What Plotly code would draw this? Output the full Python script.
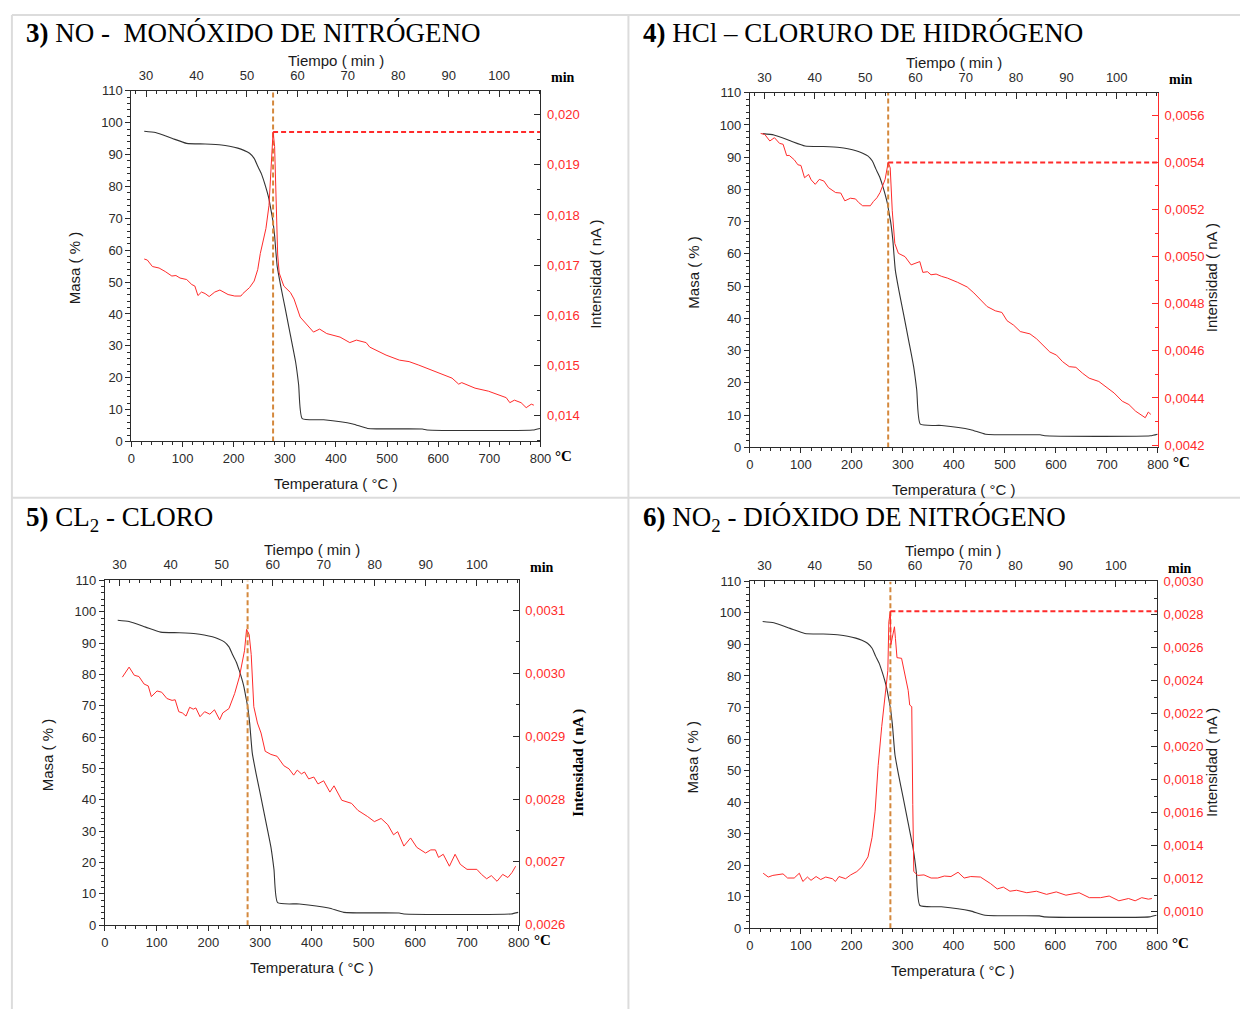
import plotly.graph_objects as go

W, H = 1251, 1017

# ---------------- data ----------------
# TGA mass loss curve (same sample for every gas)
mass_temp = [25, 47, 79, 108, 144, 176, 192, 208, 220, 231, 240, 247, 254, 260, 265, 269, 273, 276,
             280, 285, 292, 301, 311, 321, 327, 334, 376, 433, 462, 569, 578, 785, 799]
mass_pct = [97.3, 96.9, 95.1, 93.5, 93.3, 93.0, 92.6, 92.0, 91.3, 90.4, 88.8, 86.3, 84.0, 81.2, 78.5, 76.0,
            72.5, 69.8, 64.5, 55.0, 48.7, 41.5, 33.3, 25.0, 17.8, 7.2, 6.8, 5.5, 4.1, 3.9, 3.6, 3.6, 4.1]

# time scale shown on the top axis (min)
time_range = [27.1, 108.2]

# NO ion current (nA)
no_temp = [25, 31, 41, 54, 66, 79, 87, 95, 108, 118, 124, 130, 137, 144, 152, 163, 173, 189, 202, 214,
           218, 231, 240, 247, 252, 258, 263, 269, 273, 275, 277, 280, 283, 286, 289, 298, 311, 318, 330, 343,
           356, 368, 382, 408, 427, 440, 459, 466, 498, 524, 543, 562, 588, 627, 640, 646, 672, 698, 733, 740,
           749, 762, 772, 782, 787]
no_int = [0.01712, 0.01710, 0.01697, 0.01694, 0.01687, 0.01678, 0.01679, 0.01674, 0.01671, 0.01661,
          0.01658, 0.01639, 0.01646, 0.01643, 0.01637, 0.01646, 0.01650, 0.01641, 0.01638, 0.01638,
          0.01643, 0.01655, 0.01668, 0.01691, 0.01723, 0.01750, 0.01773, 0.01819, 0.01904, 0.01940,
          0.01966, 0.01937, 0.01820, 0.01720, 0.01684, 0.01658, 0.01645, 0.01632, 0.01596, 0.01582,
          0.01566, 0.01572, 0.01563, 0.01556, 0.01545, 0.01550, 0.01545, 0.01536, 0.01520, 0.01510,
          0.01507, 0.01500, 0.01489, 0.01474, 0.01462, 0.01465, 0.01454, 0.01448, 0.01435, 0.01425,
          0.01430, 0.01425, 0.01415, 0.01422, 0.01420]
no_peak_temp = 277
no_peak_int = 0.01966

# HCl ion current (nA)
hcl_temp = [21, 29, 39, 48, 58, 65, 72, 77, 87, 94, 100, 107, 115, 120, 128, 136, 145, 154, 168, 178,
            186, 197, 207, 213, 221, 236, 242, 249, 255, 265, 271, 275, 279, 284, 291, 304, 316, 323, 333, 339,
            348, 355, 365, 376, 387, 407, 426, 439, 452, 465, 481, 494, 504, 517, 530, 549, 562, 575, 588, 601,
            613, 626, 639, 652, 665, 684, 697, 714, 730, 743, 756, 765, 775, 781, 786]
hcl_int = [0.005523, 0.005519, 0.005491, 0.005505, 0.005481, 0.005477, 0.005429, 0.005430, 0.005411, 0.005390,
           0.005387, 0.005335, 0.005349, 0.005326, 0.005307, 0.005328, 0.005321, 0.005293, 0.005272, 0.005270,
           0.005237, 0.005248, 0.005245, 0.005230, 0.005216, 0.005216, 0.005234, 0.005250, 0.005272, 0.005328,
           0.005400, 0.005377, 0.005195, 0.005056, 0.005014, 0.005000, 0.004965, 0.004970, 0.004979, 0.004933,
           0.004936, 0.004923, 0.004926, 0.004916, 0.004909, 0.004891, 0.004871, 0.004846, 0.004818, 0.004788,
           0.004770, 0.004763, 0.004728, 0.004709, 0.004682, 0.004672, 0.004651, 0.004623, 0.004595, 0.004582,
           0.004554, 0.004533, 0.004530, 0.004505, 0.004484, 0.004470, 0.004449, 0.004421, 0.004386, 0.004372,
           0.004344, 0.004330, 0.004316, 0.004340, 0.004330]
hcl_peak_temp = 271
hcl_peak_int = 0.0054

# Cl2 ion current (nA)
cl_temp = [34, 41, 47, 57, 66, 76, 84, 90, 101, 110, 120, 130, 136, 143, 150, 157, 164, 171, 176, 184,
           193, 203, 212, 222, 228, 240, 251, 260, 270, 274, 279, 283, 288, 295, 302, 310, 321, 333, 346, 356,
           365, 372, 380, 386, 394, 404, 412, 423, 435, 443, 458, 477, 489, 508, 521, 534, 547, 558, 566, 578,
           591, 603, 620, 630, 639, 645, 654, 666, 677, 687, 700, 719, 728, 738, 747, 758, 769, 779, 787, 794]
cl_int = [0.002994, 0.003003, 0.003010, 0.002997, 0.002995, 0.002983, 0.002980, 0.002963, 0.002972, 0.002970,
          0.002960, 0.002957, 0.002958, 0.002939, 0.002937, 0.002932, 0.002946, 0.002943, 0.002945, 0.002931,
          0.002939, 0.002935, 0.002942, 0.002926, 0.002937, 0.002944, 0.002968, 0.002994, 0.003036, 0.003070,
          0.003062, 0.003030, 0.002947, 0.002921, 0.002905, 0.002876, 0.002871, 0.002868, 0.002853, 0.002848,
          0.002838, 0.002846, 0.002840, 0.002843, 0.002832, 0.002835, 0.002824, 0.002829, 0.002811, 0.002821,
          0.002798, 0.002793, 0.002782, 0.002772, 0.002764, 0.002769, 0.002759, 0.002743, 0.002748, 0.002725,
          0.002738, 0.002723, 0.002714, 0.002719, 0.002719, 0.002707, 0.002712, 0.002693, 0.002712, 0.002696,
          0.002688, 0.002688, 0.002680, 0.002673, 0.002678, 0.002669, 0.002680, 0.002675, 0.002683, 0.002693]
cl_peak_temp = 276

# NO2 ion current (nA)
no2_temp = [26, 36, 45, 65, 74, 87, 97, 104, 113, 120, 130, 139, 149, 162, 168, 175, 188, 198, 210, 220,
            232, 240, 246, 252, 259, 265, 271, 273, 276, 277, 280, 284, 286, 289, 298, 304, 311, 314, 318, 320,
            322, 330, 342, 356, 369, 382, 395, 409, 421, 434, 453, 473, 486, 498, 511, 524, 544, 563, 583, 602,
            621, 647, 667, 689, 706, 725, 744, 757, 770, 783, 790]
no2_int = [0.001233, 0.001210, 0.001220, 0.001229, 0.001204, 0.001204, 0.001233, 0.001183, 0.001210, 0.001190,
           0.001213, 0.001195, 0.001210, 0.001200, 0.001183, 0.001213, 0.001200, 0.001223, 0.001243, 0.001272,
           0.001332, 0.001450, 0.001609, 0.001886, 0.002123, 0.002281, 0.002460, 0.002756, 0.002820, 0.002618,
           0.002674, 0.002726, 0.002654, 0.002539, 0.002535, 0.002440, 0.002341, 0.002252, 0.002242, 0.001649,
           0.001243, 0.001220, 0.001223, 0.001204, 0.001204, 0.001216, 0.001213, 0.001239, 0.001204, 0.001213,
           0.001210, 0.001170, 0.001138, 0.001149, 0.001124, 0.001130, 0.001115, 0.001124, 0.001105, 0.001120,
           0.001100, 0.001115, 0.001085, 0.001085, 0.001095, 0.001066, 0.001080, 0.001066, 0.001085, 0.001076,
           0.001080]
no2_peak_temp = 276
no2_peak_int = 0.00282

# ---------------- styling ----------------
RED = '#ff2b2b'
ORANGE = '#d4883c'
INK = '#2b2b2b'
FRAME = '#dcdcdc'
SANS = 'Liberation Sans, Arial, sans-serif'
SERIF = 'Liberation Serif, Times New Roman, serif'


def fx(px):
    return px / W


def fy(py):
    return 1 - py / H


panels = [
    dict(title='<b>3)</b> NO -  MONÓXIDO DE NITRÓGENO', title_xy=(20, 26),
         box=(129, 543, 85, 441), temp=no_temp, inten=no_int,
         irange=[0.013474, 0.020482], itick0=0.014, idtick=0.001, fmt='.3f',
         peak_T=no_peak_temp, peak_I=no_peak_int, axis_color=INK, serif_ylab=False),
    dict(title='<b>4)</b> HCl – CLORURO DE HIDRÓGENO', title_xy=(645, 26),
         box=(755, 1168, 87, 447), temp=hcl_temp, inten=hcl_int,
         irange=[0.00419, 0.005696], itick0=0.0042, idtick=0.0002, fmt='.4f',
         peak_T=hcl_peak_temp, peak_I=hcl_peak_int, axis_color=RED, serif_ylab=False),
    dict(title='<b>5)</b> CL<sub>2</sub> - CLORO', title_xy=(20, 520),
         box=(102, 521, 582, 932), temp=cl_temp, inten=cl_int,
         irange=[0.002599, 0.003148], itick0=0.0026, idtick=0.0001, fmt='.4f',
         peak_T=cl_peak_temp, peak_I=None, axis_color=INK, serif_ylab=True),
    dict(title='<b>6)</b> NO<sub>2</sub> - DIÓXIDO DE NITRÓGENO', title_xy=(645, 520),
         box=(755, 1167, 583, 935), temp=no2_temp, inten=no2_int,
         irange=[0.0009, 0.003001], itick0=0.001, idtick=0.0002, fmt='.4f',
         peak_T=no2_peak_temp, peak_I=no2_peak_int, axis_color=INK, serif_ylab=False),
]


def ref(prefix, n):
    return prefix if n == 1 else f'{prefix}{n}'


def key(prefix, n):
    return f'{prefix}axis' if n == 1 else f'{prefix}axis{n}'


fig = go.Figure()
layout = dict(width=W, height=H, autosize=False, margin=dict(l=0, r=0, t=0, b=0),
              paper_bgcolor='white', plot_bgcolor='rgba(0,0,0,0)', showlegend=False,
              separators=',.', hovermode=False)
annotations = []
shapes = []

tick_font = dict(family=SANS, size=13, color=INK)
label_font = dict(family=SANS, size=15, color='#1a1a1a')

for k, p in enumerate(panels):
    xb, xt, yl, yr = 2 * k + 1, 2 * k + 2, 2 * k + 1, 2 * k + 2
    x0, x1, y0, y1 = p['box']
    common = dict(showline=True, linewidth=1, linecolor=INK, showgrid=False, zeroline=False,
                  tickfont=tick_font, tickcolor=INK, tickwidth=1)

    layout[key('x', xb)] = dict(common, domain=[fx(x0), fx(x1)], anchor=ref('y', yl),
                                range=[0, 800], tick0=0, dtick=100, ticks='outside', ticklen=5,
                                minor=dict(dtick=20, ticks='outside', ticklen=3, tickcolor=INK))
    layout[key('x', xt)] = dict(common, overlaying=ref('x', xb), anchor=ref('y', yl), side='top',
                                range=time_range, tick0=0, dtick=10, ticks='inside', ticklen=6,
                                ticklabelstandoff=5,
                                minor=dict(dtick=2, ticks='inside', ticklen=3, tickcolor=INK))
    layout[key('y', yl)] = dict(common, domain=[fy(y1), fy(y0)], anchor=ref('x', xb),
                                range=[0, 110], tick0=0, dtick=10, ticks='outside', ticklen=5,
                                minor=dict(dtick=2, ticks='outside', ticklen=3, tickcolor=INK))
    layout[key('y', yr)] = dict(showline=True, linewidth=1, linecolor=p['axis_color'], showgrid=False,
                                zeroline=False, overlaying=ref('y', yl), anchor=ref('x', xb), side='right',
                                range=p['irange'], tick0=p['itick0'], dtick=p['idtick'],
                                tickformat=p['fmt'], ticks='inside', ticklen=6, tickwidth=1,
                                tickcolor=p['axis_color'], ticklabelstandoff=3,
                                tickfont=dict(family=SANS, size=13, color=RED),
                                minor=dict(tick0=p['itick0'], dtick=p['idtick'] / 2, ticks='inside',
                                           ticklen=3, tickcolor=p['axis_color']))

    # mass curve
    fig.add_trace(go.Scatter(x=mass_temp, y=mass_pct, mode='lines',
                             line=dict(color='#333333', width=1.1, shape='spline', smoothing=0.5),
                             xaxis=ref('x', xb), yaxis=ref('y', yl)))
    # empty trace so the time axis is registered with its subplot
    fig.add_trace(go.Scatter(x=[], y=[], mode='lines', xaxis=ref('x', xt), yaxis=ref('y', yl)))
    # ion current
    fig.add_trace(go.Scatter(x=p['temp'], y=p['inten'], mode='lines',
                             line=dict(color=RED, width=1),
                             xaxis=ref('x', xb), yaxis=ref('y', yr)))
    # peak temperature marker
    fig.add_trace(go.Scatter(x=[p['peak_T'], p['peak_T']], y=[0, 110], mode='lines',
                             line=dict(color=ORANGE, width=2, dash='5px,3px'),
                             xaxis=ref('x', xb), yaxis=ref('y', yl)))
    # peak intensity level
    if p['peak_I'] is not None:
        fig.add_trace(go.Scatter(x=[p['peak_T'], 800], y=[p['peak_I'], p['peak_I']], mode='lines',
                                 line=dict(color=RED, width=2, dash='5px,3px'),
                                 xaxis=ref('x', xb), yaxis=ref('y', yr)))

    cx = (x0 + x1) / 2
    annotations += [
        dict(text=p['title'], x=fx(p['title_xy'][0]), y=fy(p['title_xy'][1]), xref='paper', yref='paper',
             xanchor='left', yanchor='middle', showarrow=False,
             font=dict(family=SERIF, size=27, color='black')),
        dict(text='Tiempo ( min )', x=fx(cx), y=fy(y0 - 31), xref='paper', yref='paper',
             xanchor='center', yanchor='middle', showarrow=False, font=label_font),
        dict(text='Temperatura ( °C )', x=fx(cx), y=fy(y1 + 43), xref='paper', yref='paper',
             xanchor='center', yanchor='middle', showarrow=False, font=label_font),
        dict(text='Masa ( % )', x=fx(x0 - 58), y=fy((y0 + y1) / 2 + 2), xref='paper', yref='paper',
             xanchor='center', yanchor='middle', textangle=-90, showarrow=False, font=label_font),
        dict(text='<b>min</b>', x=fx(x1 + 9), y=fy(y0 - 13), xref='paper', yref='paper',
             xanchor='left', yanchor='middle', showarrow=False,
             font=dict(family=SERIF, size=14, color='black')),
        dict(text='<b>°C</b>', x=fx(x1 + 13), y=fy(y1 + 15), xref='paper', yref='paper',
             xanchor='left', yanchor='middle', showarrow=False,
             font=dict(family=SERIF, size=15, color='black')),
    ]
    if p['serif_ylab']:
        annotations.append(dict(text='<b>Intensidad ( nA )</b>', x=fx(x1 + 61), y=fy((y0 + y1) / 2 + 10),
                                xref='paper', yref='paper', xanchor='center', yanchor='middle',
                                textangle=-90, showarrow=False,
                                font=dict(family=SERIF, size=15, color='black')))
    else:
        annotations.append(dict(text='Intensidad ( nA )', x=fx(x1 + 55), y=fy((y0 + y1) / 2 + 8),
                                xref='paper', yref='paper', xanchor='center', yanchor='middle',
                                textangle=-90, showarrow=False, font=label_font))

# light frame separating the four panels
for (ax0, ay0, ax1, ay1) in [(8, 8, 8, H), (8, 8, W, 8), (632, 8, 632, H), (8, 498, W, 498)]:
    shapes.append(dict(type='line', xref='paper', yref='paper', x0=fx(ax0), y0=fy(ay0), x1=fx(ax1),
                       y1=fy(ay1), line=dict(color=FRAME, width=2)))

layout['annotations'] = annotations
layout['shapes'] = shapes
fig.update_layout(**layout)
fig.write_html('out.html')
